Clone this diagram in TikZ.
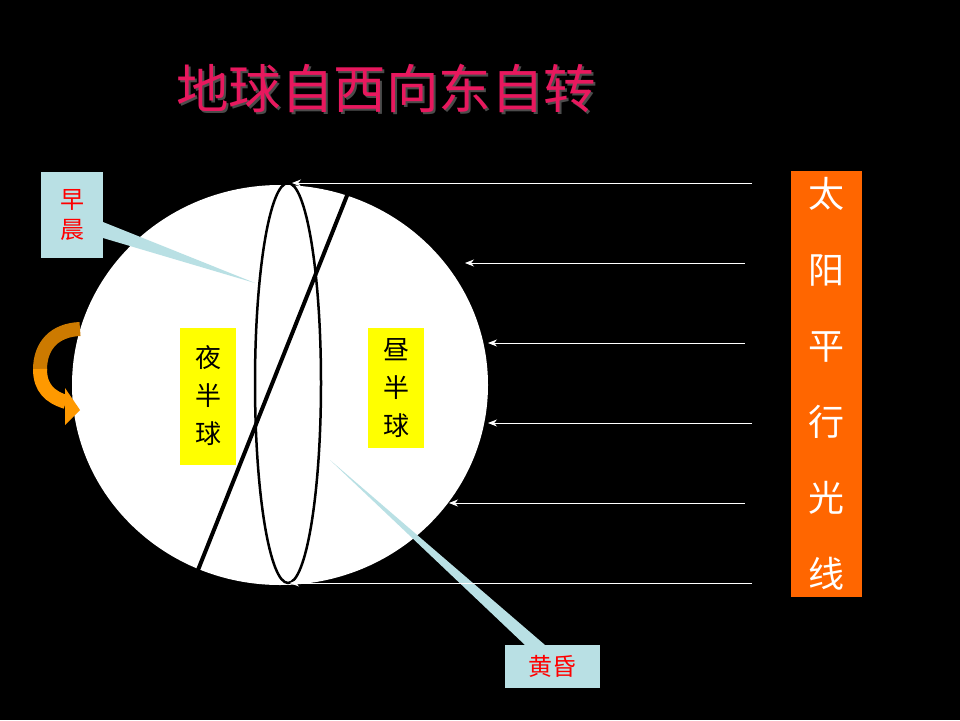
\documentclass[tikz,border=0pt]{standalone}
\usepackage{fontspec}
\newfontfamily\cjk{Noto Sans CJK SC}
\usetikzlibrary{arrows.meta,shapes.geometric}
\definecolor{title_pink}{RGB}{232, 24, 94}
\definecolor{call_blue}{RGB}{185, 224, 228}
\definecolor{half_yellow}{RGB}{255, 255, 0}
\definecolor{sun_orange}{RGB}{255, 102, 0}
\definecolor{arr_dark}{RGB}{204, 122, 0}
\definecolor{arr_light}{RGB}{255, 153, 0}
\tikzstyle{callout}=[fill=call_blue,inner sep=0pt,font=\cjk\fontsize{24}{30}\selectfont,text=red]
\tikzstyle{half}=[fill=half_yellow,inner sep=0pt,minimum width=56pt,font=\cjk\fontsize{26}{38}\selectfont,align=center]
\tikzstyle{ray}=[white,line width=0.8pt,-{Stealth[length=9pt,width=7pt]}]
\begin{document}
\begin{tikzpicture}[x=1pt,y=-1pt]
    \fill[black] (0,0) rectangle (960,720);
    % title with shadow
    \node[text=title_pink] (title) at (386,89) {\cjk\fontsize{52.5}{58}\selectfont
      \rlap{\kern2pt\raisebox{-2pt}{\color{gray!60!black}地球自西向东自转}}地球自西向东自转};
    % earth
    \node[fill=white,ellipse,draw=none,minimum width=416pt,minimum height=400pt,inner sep=0pt] (earth) at (280,385) {};
    \node[half,minimum height=137pt] (night) at (208,396) {夜\\半\\球};
    \node[half,minimum height=120pt] (day) at (396,388) {昼\\半\\球};
    \draw[black,line width=2.5pt] (288,383) ellipse (33 and 200);
    \coordinate (axtop) at (352,183);
    \coordinate (axbot) at (198,570);
    \draw[black,line width=4pt] (axtop) -- (axbot);
    % callouts
    \node[callout,minimum width=62pt,minimum height=86pt,align=center] (dawn) at (72,215) {早\\晨};
    \coordinate (dawntip) at (255,283);
    \fill[call_blue] (103,222) -- (dawntip) -- (103,238) -- cycle;
    \node[callout,minimum width=95pt,minimum height=43pt] (dusk) at (552,666) {黄昏};
    \coordinate (dusktip) at (330,460);
    \fill[call_blue] (dusktip) -- (545,645) -- (525,645) -- cycle;
    % sunlight
    \node[fill=sun_orange,minimum width=71pt,minimum height=426pt,inner sep=0pt,text=white,align=center,font=\cjk\fontsize{36}{76}\selectfont] (sun) at (826,384) {太\\阳\\平\\行\\光\\线};
    \coordinate (r1) at (752,183); \coordinate (e1) at (292,183);
    \coordinate (r2) at (745,263); \coordinate (e2) at (465,263);
    \coordinate (r3) at (745,343); \coordinate (e3) at (488,343);
    \coordinate (r4) at (752,423); \coordinate (e4) at (488,423);
    \coordinate (r5) at (745,503); \coordinate (e5) at (449,503);
    \coordinate (r6) at (752,583); \coordinate (e6) at (290,583);
    \foreach \i in {1,...,6} \draw[ray] (r\i) -- (e\i);
    % rotation arrow
    \draw[arr_dark,line width=14pt] (80,329) .. controls (55,330) and (40,345) .. (40,370);
    \draw[arr_light,line width=14pt] (40,369) .. controls (40,388) and (50,397) .. (66,402);
    \fill[arr_light] (65,388) -- (80,410) -- (65,425) -- cycle;
\end{tikzpicture}
\end{document}
